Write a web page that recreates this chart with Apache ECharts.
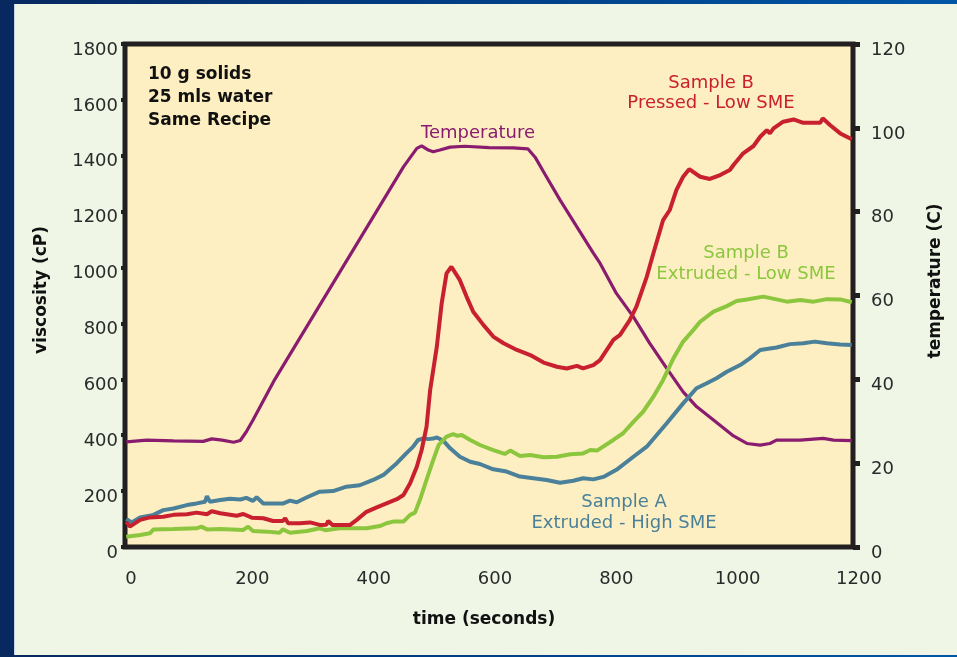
<!DOCTYPE html>
<html>
<head>
<meta charset="utf-8">
<script src="https://cdn.jsdelivr.net/npm/echarts@6/dist/echarts.min.js"></script>
<style>
html,body{margin:0;padding:0;}
#frame{position:absolute;left:0;top:0;width:957px;height:657px;background:linear-gradient(90deg,#08285f 0%,#003a80 40%,#0056a6 100%);}
#panel{position:absolute;left:14px;top:4px;width:943px;height:651px;background:#eff6e6;border-left:1px solid #c8d6e6;}
#chart{position:absolute;left:0;top:0;width:957px;height:657px;}
</style>
</head>
<body>
<div id="frame"></div>
<div id="panel"></div>
<div id="chart"></div>
<script>
// ---- Data (time in seconds) ----
const xTicks = [0, 200, 400, 600, 800, 1000, 1200];
const viscTicks = [0, 200, 400, 600, 800, 1000, 1200, 1400, 1600, 1800];
const tempTicks = [0, 20, 40, 60, 80, 100, 120];

// Sample A - Extruded - High SME (viscosity, cP)
const sampleATime = [2,11,25,47,63,80,102,118,132,135,140,157,173,190,200,211,217,228,261,272,283,300,321,343,365,387,409,426,448,464,475,483,492,500,508,514,525,536,552,569,585,607,629,651,673,695,717,739,755,772,790,810,838,860,893,920,942,959,975,992,1014,1030,1047,1074,1096,1118,1137,1157,1179,1198];
const sampleAVisc = [100,88,106,115,132,138,150,156,162,182,162,168,173,170,176,165,178,156,156,166,160,178,198,200,216,221,240,258,300,336,359,383,389,386,388,392,380,353,323,305,297,278,270,252,246,240,230,237,246,242,252,276,323,359,443,514,568,586,604,627,651,675,705,714,726,729,735,729,725,723];

// Sample B - Pressed - Low SME (viscosity, cP)
const sampleBPTime = [2,8,25,41,63,80,102,118,135,143,157,184,195,209,228,244,260,264,269,288,305,321,332,335,342,371,382,398,415,431,448,459,470,481,489,497,503,514,522,530,538,552,563,574,591,607,624,646,668,690,712,728,745,755,772,783,805,816,832,843,860,871,887,898,909,920,930,948,964,981,997,1003,1019,1036,1047,1058,1063,1069,1085,1102,1118,1146,1150,1162,1179,1198];
const sampleBPVisc = [90,73,97,106,108,115,117,123,117,128,121,112,118,105,103,93,93,103,85,85,88,79,80,93,79,79,97,126,142,156,171,186,228,287,347,430,562,717,872,979,1003,955,896,842,794,753,729,705,687,660,645,639,648,639,651,669,741,759,812,860,967,1051,1170,1206,1278,1325,1352,1325,1317,1331,1349,1367,1409,1435,1468,1492,1480,1498,1522,1530,1518,1518,1534,1510,1480,1459];

// Sample B - Extruded - Low SME (viscosity, cP)
const sampleBETime = [2,25,41,47,80,118,126,135,157,195,203,211,234,255,260,272,300,321,330,354,398,420,431,442,459,470,478,486,497,508,517,530,541,548,555,569,585,607,626,635,651,668,690,712,734,755,767,778,805,821,838,854,871,887,904,920,937,948,970,992,1008,1025,1052,1070,1091,1113,1135,1157,1179,1198];
const sampleBEVisc = [37,43,49,63,64,67,73,63,64,61,73,57,55,51,63,51,57,67,60,67,67,75,85,91,91,115,123,168,240,311,365,395,404,398,401,383,365,347,333,345,326,329,321,323,332,335,347,345,383,407,448,484,538,598,675,735,777,806,842,862,880,886,896,888,878,884,878,887,886,876];

// Temperature (C)
const tempTime = [2,36,80,129,143,160,179,190,200,211,247,459,481,489,500,508,519,536,560,600,640,664,676,692,717,772,783,810,838,865,893,920,942,970,1003,1025,1047,1063,1074,1113,1151,1168,1198];
const tempValue = [25.1,25.5,25.3,25.2,25.8,25.5,25.0,25.4,27.5,30.3,40.0,90.7,95.1,95.7,94.7,94.3,94.7,95.4,95.6,95.3,95.2,95.0,93.0,89.0,82.8,70.1,67.7,60.5,54.9,48.6,42.6,37.0,33.5,30.3,26.5,24.7,24.3,24.7,25.5,25.5,25.9,25.5,25.4];

// Annotation texts
const boxText = ['10 g solids', '25 mls water', 'Same Recipe'];
const labelPressed = ['Sample B', 'Pressed - Low SME'];
const labelExtrudedB = ['Sample B', 'Extruded - Low SME'];
const labelExtrudedA = ['Sample A', 'Extruded - High SME'];

const pairs = (xs, ys) => xs.map((x, i) => [x, ys[i]]);

const FONT = '"DejaVu Sans", "Open Sans", sans-serif';
const AXIS = '#231f20';
const RED = '#c8202f', GREEN = '#8cc63e', BLUE = '#4a8099', PURPLE = '#8a1c70';
const plain = v => String(v);

const chart = echarts.init(document.getElementById('chart'), null, {renderer: 'canvas'});

function txt(x, y, text, color, size, weight, align) {
  return {type: 'text', x: x, y: y, z: 100,
    style: {text: text, fill: color, font: (weight || 'normal') + ' ' + size + 'px ' + FONT,
      textAlign: align || 'center', textVerticalAlign: 'middle'}};
}

const option = {
  backgroundColor: 'transparent',
  animation: false,
  grid: {left: 125, right: 104, top: 44, bottom: 110, show: true,
    backgroundColor: '#fdefc1', borderColor: AXIS, borderWidth: 5},
  xAxis: {type: 'value', min: xTicks[0], max: xTicks[xTicks.length - 1], interval: 200,
    axisLine: {show: false}, axisTick: {show: false}, splitLine: {show: false},
    axisLabel: {fontSize: 18, color: '#2a2a2a', fontFamily: FONT, margin: 23, padding: [0, 0, 0, 12], formatter: plain}},
  yAxis: [
    {type: 'value', min: viscTicks[0], max: viscTicks[viscTicks.length - 1], interval: 200,
      axisLine: {show: false}, splitLine: {show: false},
      axisTick: {show: true, length: 4, lineStyle: {color: AXIS, width: 4}},
      axisLabel: {fontSize: 18, color: '#2a2a2a', fontFamily: FONT, margin: 7,
        verticalAlign: 'top', lineHeight: 12, formatter: plain}},
    {type: 'value', position: 'right', min: tempTicks[0], max: tempTicks[tempTicks.length - 1], interval: 20,
      axisLine: {show: false}, splitLine: {show: false},
      axisTick: {show: true, length: 7, lineStyle: {color: AXIS, width: 5}},
      axisLabel: {fontSize: 18, color: '#2a2a2a', fontFamily: FONT, margin: 18,
        verticalAlign: 'top', lineHeight: 12, formatter: plain}}
  ],
  series: [
    {name: 'Temperature', type: 'line', yAxisIndex: 1, data: pairs(tempTime, tempValue),
      showSymbol: false, lineStyle: {color: PURPLE, width: 3.2}},
    {name: 'Sample A', type: 'line', data: pairs(sampleATime, sampleAVisc),
      showSymbol: false, lineStyle: {color: BLUE, width: 4}},
    {name: 'Sample B Extruded', type: 'line', data: pairs(sampleBETime, sampleBEVisc),
      showSymbol: false, lineStyle: {color: GREEN, width: 4}},
    {name: 'Sample B Pressed', type: 'line', data: pairs(sampleBPTime, sampleBPVisc),
      showSymbol: false, lineStyle: {color: RED, width: 4}}
  ],
  graphic: [
    txt(148, 75, boxText[0], '#111', 17, 'bold', 'left'),
    txt(148, 98, boxText[1], '#111', 17, 'bold', 'left'),
    txt(148, 121, boxText[2], '#111', 17, 'bold', 'left'),
    txt(478, 133, 'Temperature', PURPLE, 18),
    txt(711, 83, labelPressed[0], RED, 18),
    txt(711, 103, labelPressed[1], RED, 18),
    txt(746, 253, labelExtrudedB[0], GREEN, 18),
    txt(746, 274, labelExtrudedB[1], GREEN, 18),
    txt(624, 502, labelExtrudedA[0], BLUE, 18),
    txt(624, 523, labelExtrudedA[1], BLUE, 18),
    txt(484, 620, 'time (seconds)', '#111', 17, 'bold'),
    Object.assign(txt(42, 290, 'viscosity (cP)', '#111', 17, 'bold'), {rotation: Math.PI / 2}),
    Object.assign(txt(936, 281, 'temperature (C)', '#111', 17, 'bold'), {rotation: Math.PI / 2})
  ]
};
chart.setOption(option);
</script>
</body>
</html>
